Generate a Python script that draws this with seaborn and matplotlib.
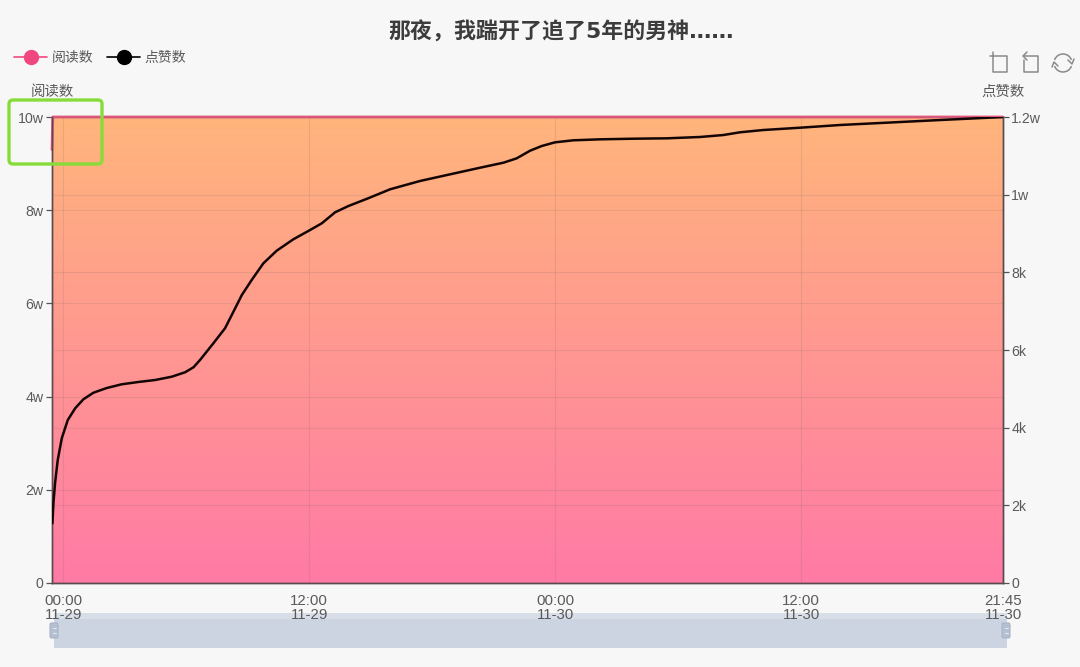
import numpy as np
import pandas as pd
import matplotlib
matplotlib.use("Agg")
import matplotlib.pyplot as plt
import seaborn as sns
from matplotlib.colors import LinearSegmentedColormap
from matplotlib.lines import Line2D
from matplotlib.patches import Arc, FancyBboxPatch, Rectangle

# hours counted from 11-29 00:00
like_hours = [-0.52, -0.47, -0.39, -0.26, -0.06, 0.23, 0.59, 0.99, 1.48, 2.13, 2.86, 3.67,
              4.49, 5.30, 5.95, 6.36, 6.68, 7.33, 7.90, 8.31, 8.72, 9.20, 9.77, 10.42,
              11.23, 12.05, 12.62, 13.27, 13.92, 14.88, 15.95, 17.41, 18.88, 20.34, 21.48,
              22.13, 22.78, 23.35, 24.0, 24.89, 26.2, 27.82, 29.45, 31.07, 32.21, 33.02,
              34.16, 35.95, 37.9, 39.85, 42.78, 45.85]
likes = [1537, 2060, 2575, 3167, 3734, 4197, 4499, 4730, 4900, 5021, 5117, 5176,
         5227, 5312, 5426, 5554, 5742, 6172, 6559, 6986, 7416, 7802, 8232, 8557,
         8850, 9090, 9262, 9546, 9708, 9906, 10138, 10352, 10524, 10694, 10823,
         10936, 11132, 11253, 11348, 11400, 11425, 11441, 11451, 11485, 11536, 11606,
         11665, 11724, 11794, 11845, 11922, 12000]
read_hours = [-0.54, -0.5, 45.85]
reads = [93000, 100000, 100000]

x_ticks = [0, 12, 24, 36, 45.85]
x_labels = ["00:00\n11-29", "12:00\n11-29", "00:00\n11-30", "12:00\n11-30", "21:45\n11-30"]
read_ticks = [0, 20000, 40000, 60000, 80000, 100000]
read_labels = ["0", "2w", "4w", "6w", "8w", "10w"]
like_ticks = [0, 2000, 4000, 6000, 8000, 10000, 12000]
like_labels = ["0", "2k", "4k", "6k", "8k", "1w", "1.2w"]

TITLE = "那夜\uff0c我踹开了追了5年的男神……"
BG = "#f7f7f7"
TEXT = "#5a5a5a"
PINK = "#f0477f"

sns.set_theme(style="white")
plt.rcParams["font.family"] = ["Liberation Sans", "Noto Sans CJK SC"]

W, H = 1080, 667
fig = plt.figure(figsize=(W / 100, H / 100), dpi=100, facecolor=BG)


def overlay(zorder):
    a = fig.add_axes([0, 0, 1, 1], zorder=zorder)
    a.set_xlim(0, W)
    a.set_ylim(H, 0)
    a.axis("off")
    a.patch.set_alpha(0)
    return a


# data zoom strip sits behind the tick labels
back = overlay(-1)
back.add_patch(Rectangle((54, 613), 953, 35, color="#ccd4e1", lw=0))
back.add_patch(Rectangle((54, 613), 953, 6, color="#d8dee8", lw=0))

ax = fig.add_axes([52 / W, 1 - 583 / H, 951 / W, 466 / H], zorder=1)
ax.patch.set_alpha(0)
ax2 = ax.twinx()
ax2.set_zorder(2)
ax2.patch.set_alpha(0)

read_df = pd.DataFrame({"hour": read_hours, "value": reads})
like_df = pd.DataFrame({"hour": like_hours, "value": likes})

# gradient area under the read count
cmap = LinearSegmentedColormap.from_list("area", ["#ffb57c", "#ff7aa6"])
area = ax.fill_between(read_df["hour"], read_df["value"], 0, color="none")
img = ax.imshow(np.linspace(0, 1, 256).reshape(-1, 1), cmap=cmap, aspect="auto", zorder=1,
                extent=[read_hours[0], read_hours[-1], 0, 100000])
img.set_clip_path(area.get_paths()[0], ax.transData)

sns.lineplot(data=read_df, x="hour", y="value", ax=ax, color="#e0567c", lw=2.0, zorder=5,
             errorbar=None, sort=False, clip_on=False)
sns.lineplot(data=like_df, x="hour", y="value", ax=ax2, color="#140505", lw=1.8, zorder=5,
             errorbar=None, sort=False, solid_joinstyle="round")

ax.set_xlim(read_hours[0], read_hours[-1])
ax.set_ylim(0, 100000)
ax2.set_ylim(0, 12000)
ax.set_xticks(x_ticks, x_labels)
ax.set_yticks(read_ticks, read_labels)
ax2.set_yticks(like_ticks, like_labels)
ax.set_xlabel("")
ax.set_ylabel("")
ax2.set_xlabel("")
ax2.set_ylabel("")

ax.set_axisbelow(False)
ax2.set_axisbelow(False)
ax.grid(True, color="#7a6a6a", alpha=0.17, lw=0.8)
ax2.grid(True, axis="y", color="#7a6a6a", alpha=0.17, lw=0.8)

for a in (ax, ax2):
    a.tick_params(length=4, width=0.9, color="#555555", labelcolor=TEXT, labelsize=10.2, pad=2)
    for name, sp in a.spines.items():
        sp.set_visible(name != "top")
        sp.set_color("#5a4a50")
        sp.set_linewidth(1.0)
ax.tick_params(axis="x", labelsize=10.8, pad=4)
for lab in ax.get_xticklabels():
    lab.set_linespacing(1.02)

handles = [
    Line2D([], [], color=PINK, lw=1.2, marker="o", ms=10, mec=PINK),
    Line2D([], [], color="black", lw=1.2, marker="o", ms=10, mec="black"),
]
fig.legend(handles, ["阅读数", "点赞数"], loc="upper left", bbox_to_anchor=(3 / W, 1 - 40 / H),
           ncol=2, frameon=False, fontsize=10, handlelength=2.4, handletextpad=0.3,
           columnspacing=1.0, labelcolor=TEXT, borderpad=0.3)

front = overlay(10)
front.text(561, 32, TITLE, ha="center", va="center", fontsize=15.8, fontweight="bold", color="#3c3c3c",
           family=["DejaVu Sans", "Noto Sans CJK SC"])
front.text(52, 92, "阅读数", ha="center", va="center", fontsize=10.4, color=TEXT)
front.text(1003, 92, "点赞数", ha="center", va="center", fontsize=10.4, color=TEXT)

front.add_patch(FancyBboxPatch((9, 100), 93, 64, boxstyle="round,pad=0,rounding_size=4",
                               fc="none", ec="#86dc38", lw=2.4))

# slider handles
for hx in (54, 1006):
    front.add_patch(FancyBboxPatch((hx - 4, 623), 8, 15, boxstyle="round,pad=0,rounding_size=1.5",
                                   fc="#b4bfd2", ec="#a8b4c8", lw=0.8))
    front.plot([hx - 1.5, hx + 1.5], [628, 628], color="#e4e8ef", lw=0.8)
    front.plot([hx - 1.5, hx + 1.5], [633, 633], color="#e4e8ef", lw=0.8)

# toolbox icons
icon = dict(color="#8a8a8a", lw=1.1)
front.plot([990, 1007, 1007, 993, 993], [56, 56, 72, 72, 52], **icon)
front.plot([1024, 1038, 1038, 1024, 1024], [56, 56, 72, 72, 60], **icon)
front.plot([1027, 1023, 1027], [52, 56, 60], **icon)
front.add_patch(Arc((1063, 63), 18, 18, theta1=20, theta2=160, ec="#8a8a8a", lw=1.1))
front.add_patch(Arc((1063, 63), 18, 18, theta1=200, theta2=340, ec="#8a8a8a", lw=1.1))
front.plot([1068, 1072, 1074], [60, 64, 59], **icon)
front.plot([1052, 1054, 1058], [67, 62, 66], **icon)

fig.savefig("out.png", dpi=100, facecolor=BG)
plt.close(fig)
